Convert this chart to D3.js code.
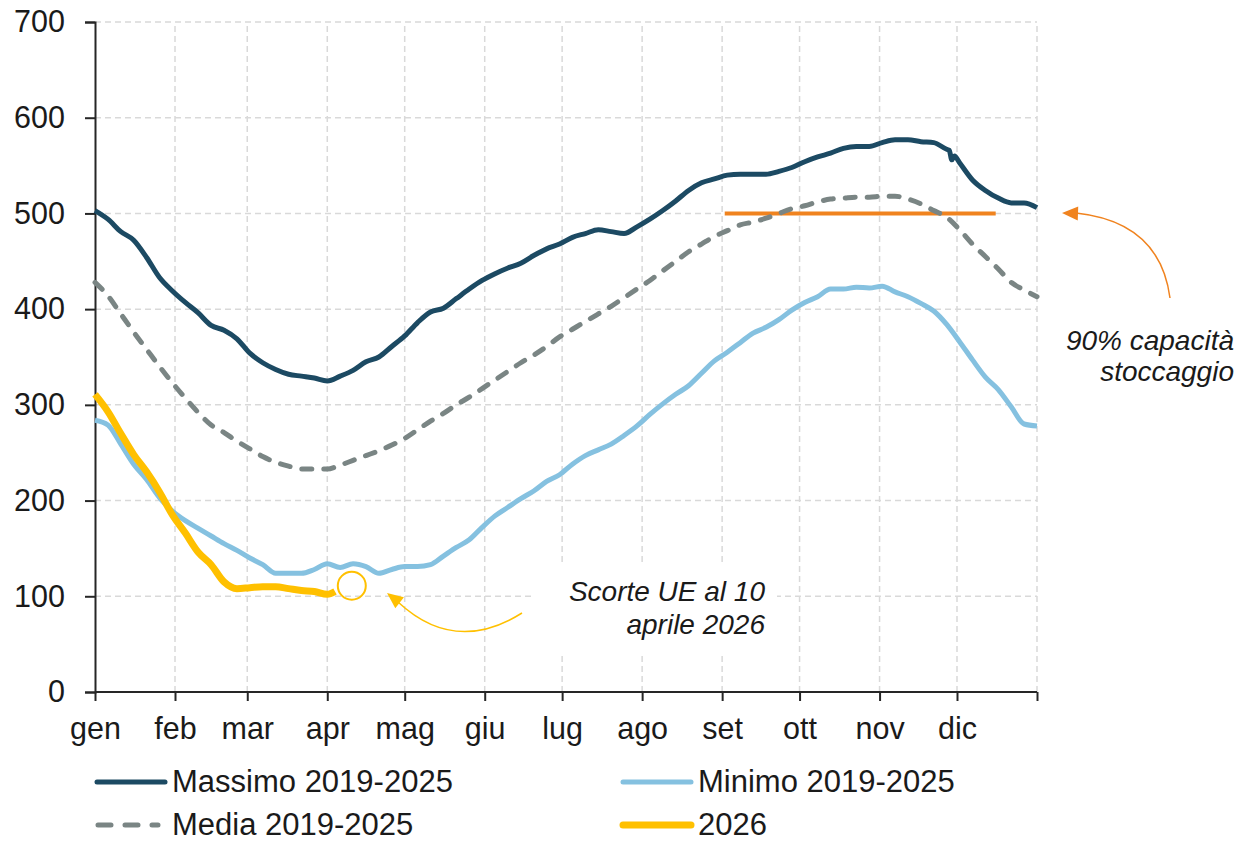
<!DOCTYPE html>
<html>
<head>
<meta charset="utf-8">
<script src="https://cdn.jsdelivr.net/npm/d3@7"></script>
<style>
  body { margin: 0; background: #fff; }
  svg { display: block; font-family: "Liberation Sans", Arial, sans-serif; }
</style>
</head>
<body>
<div id="chart"></div>
<script>
// giorni dell'anno (passo 5)
var days = d3.range(0, 365, 5).concat([365]);

var massimo = [503, 494, 481, 472, 454, 433, 419, 407, 396, 383, 378, 369, 354, 344, 337, 332, 330, 328, 325, 330,
  336, 345, 350, 361, 372, 386, 397, 401, 411, 421, 430, 437, 443, 448, 456, 463, 468, 475, 479, 483,
  481, 479, 486, 494, 503, 513, 524, 532, 536, 540, 541, 541, 541, 544, 548, 554, 559, 563, 568, 570,
  570, 574, 577, 577, 575, 574, 567, 553, 535, 524, 516, 511, 511, 506];
// piccolo scalino di fine novembre
var notchDays = [331, 332, 333];
var notchVals = [566, 556, 560];

var media = [428, 414, 395, 376, 358, 340, 323, 307, 292, 279, 271, 262, 254, 246, 240, 236, 233, 233, 233, 237,
  242, 247, 252, 258, 265, 274, 283, 291, 300, 308, 317, 326, 335, 344, 352, 361, 371, 379, 387, 395,
  403, 412, 421, 430, 440, 450, 460, 468, 476, 482, 488, 491, 495, 500, 505, 508, 512, 515, 516, 517,
  517, 518, 518, 515, 510, 503, 496, 483, 468, 455, 442, 428, 420, 413];

var minimo = [284, 279, 259, 238, 222, 203, 189, 179, 171, 163, 155, 148, 140, 133, 124, 124, 124, 128, 134, 130,
  134, 131, 124, 128, 131, 131, 133, 142, 151, 159, 172, 184, 193, 202, 210, 220, 227, 238, 247, 253,
  259, 268, 278, 290, 301, 311, 320, 333, 346, 355, 365, 375, 381, 389, 399, 407, 413, 421, 421, 423,
  422, 424, 418, 413, 406, 398, 384, 366, 347, 329, 316, 298, 280, 278];

var days2026 = [0, 5, 10, 15, 20, 25, 30, 35, 40, 45, 50, 55, 60, 65, 70, 75, 80, 85, 90, 93];
var anno2026 = [311, 293, 270, 248, 230, 209, 185, 166, 146, 133, 115, 108, 109, 110, 110, 108, 106, 105, 102, 105];

// 90% capacità stoccaggio
var soglia = 500;
var sogliaDays = [244, 349];
var ultimoDato = [99.5, 111];

var monthStarts = [0, 31, 59, 90, 120, 151, 181, 212, 243, 273, 304, 334, 365];
var monthLabels = ["gen", "feb", "mar", "apr", "mag", "giu", "lug", "ago", "set", "ott", "nov", "dic"];
var yTicks = [0, 100, 200, 300, 400, 500, 600, 700];

function pairs(dd, vv) {
  return vv.map(function (v, i) { return [dd[i], v]; });
}
var massimoPts = pairs(days, massimo).concat(pairs(notchDays, notchVals))
  .sort(function (a, b) { return a[0] - b[0]; });

var series = [
  { name: "Massimo 2019-2025", pts: massimoPts, color: "#1c4a63", w: 5, dash: null },
  { name: "Minimo 2019-2025", pts: pairs(days, minimo), color: "#85c1e0", w: 5, dash: null },
  { name: "Media 2019-2025", pts: pairs(days, media), color: "#7a8584", w: 5, dash: "10,12" },
  { name: "2026", pts: pairs(days2026, anno2026), color: "#ffc000", w: 7, dash: null }
];

var width = 1238, height = 842;
var svg = d3.select("#chart").append("svg")
  .attr("width", width)
  .attr("height", height);

var x = d3.scaleLinear().domain([0, 365]).range([95, 1037]);
var y = d3.scaleLinear().domain([0, 700]).range([692, 22]);

// griglia
var grid = svg.append("g")
  .attr("stroke", "#d9d9d9")
  .attr("stroke-width", 1.5)
  .attr("stroke-dasharray", "6,4");
grid.selectAll("line.h")
  .data(yTicks.slice(1))
  .enter().append("line")
  .attr("x1", x(0)).attr("x2", x(365))
  .attr("y1", function (d) { return y(d); })
  .attr("y2", function (d) { return y(d); });
grid.selectAll("line.v")
  .data(monthStarts.slice(1))
  .enter().append("line")
  .attr("y1", y(0)).attr("y2", y(700))
  .attr("x1", function (d) { return x(d); })
  .attr("x2", function (d) { return x(d); });

// box bianco dietro la nota
svg.append("rect")
  .attr("x", 535).attr("y", 562)
  .attr("width", 242).attr("height", 90)
  .attr("fill", "#fff");

// assi
var yAxis = svg.append("g")
  .attr("transform", "translate(" + x(0) + ",0)")
  .call(d3.axisLeft(y).tickValues(yTicks).tickSize(10).tickPadding(20));
var xAxis = svg.append("g")
  .attr("transform", "translate(0," + y(0) + ")")
  .call(d3.axisBottom(x).tickValues(monthStarts).tickSize(9).tickPadding(16)
    .tickFormat(function (d, i) { return monthLabels[i] || ""; }));
[yAxis, xAxis].forEach(function (a) {
  a.selectAll("path, line").attr("stroke", "#262626").attr("stroke-width", 2);
  a.selectAll("text").attr("font-size", 30.5).attr("fill", "#1a1a1a")
    .attr("font-family", "'Liberation Sans', Arial, sans-serif");
});
xAxis.select(".domain").attr("d", "M" + x(0) + ",0H" + x(365));

// linea soglia 90%
svg.append("line")
  .attr("x1", x(sogliaDays[0])).attr("x2", x(sogliaDays[1]))
  .attr("y1", y(soglia)).attr("y2", y(soglia))
  .attr("stroke", "#f0831f").attr("stroke-width", 4);

// serie
var line = d3.line()
  .x(function (d) { return x(d[0]); })
  .y(function (d) { return y(d[1]); })
  .curve(d3.curveMonotoneX);
series.forEach(function (s) {
  svg.append("path")
    .datum(s.pts)
    .attr("fill", "none")
    .attr("stroke", s.color)
    .attr("stroke-width", s.w)
    .attr("stroke-linejoin", "round")
    .attr("stroke-linecap", s.dash ? "round" : "butt")
    .attr("stroke-dasharray", s.dash)
    .attr("d", line);
});

// cerchio ultimo dato
svg.append("circle")
  .attr("cx", x(ultimoDato[0])).attr("cy", y(ultimoDato[1]))
  .attr("r", 14)
  .attr("fill", "none")
  .attr("stroke", "#ffc000")
  .attr("stroke-width", 2);

// frecce annotazioni
function arrow(path, tip, angle, color) {
  svg.append("path")
    .attr("d", path)
    .attr("fill", "none")
    .attr("stroke", color)
    .attr("stroke-width", 1.5);
  svg.append("path")
    .attr("d", "M0,0L16,-7L16,7Z")
    .attr("fill", color)
    .attr("transform", "translate(" + tip[0] + "," + tip[1] + ") rotate(" + angle + ")");
}
arrow("M522,613 Q455,655 398,602", [387, 593], 38, "#ffc000");
arrow("M1170,298 Q1160,222 1076,213", [1062, 213], 2, "#f0831f");

// testi annotazioni
var note = svg.append("g")
  .attr("font-size", 28)
  .attr("font-style", "italic")
  .attr("fill", "#1a1a1a")
  .attr("text-anchor", "end");
note.append("text").attr("x", 765).attr("y", 601).text("Scorte UE al 10");
note.append("text").attr("x", 765).attr("y", 634).text("aprile 2026");
note.append("text").attr("x", 1234).attr("y", 350).text("90% capacità");
note.append("text").attr("x", 1234).attr("y", 381).text("stoccaggio");

// legenda
var legendPos = [[95, 782], [621, 782], [95, 825], [621, 825]];
var legend = svg.append("g");
series.forEach(function (s, i) {
  var p = legendPos[i];
  var g = legend.append("g").attr("transform", "translate(" + p[0] + "," + p[1] + ")");
  g.append("line")
    .attr("x1", s.dash ? 3 : 2).attr("x2", s.dash ? 63 : 70)
    .attr("stroke", s.color)
    .attr("stroke-width", s.w)
    .attr("stroke-linecap", "round")
    .attr("stroke-dasharray", s.dash ? "13,14" : null);
  g.append("text")
    .attr("x", 77).attr("y", 10)
    .attr("font-size", 31)
    .attr("fill", "#1a1a1a")
    .text(s.name);
});
</script>
</body>
</html>
